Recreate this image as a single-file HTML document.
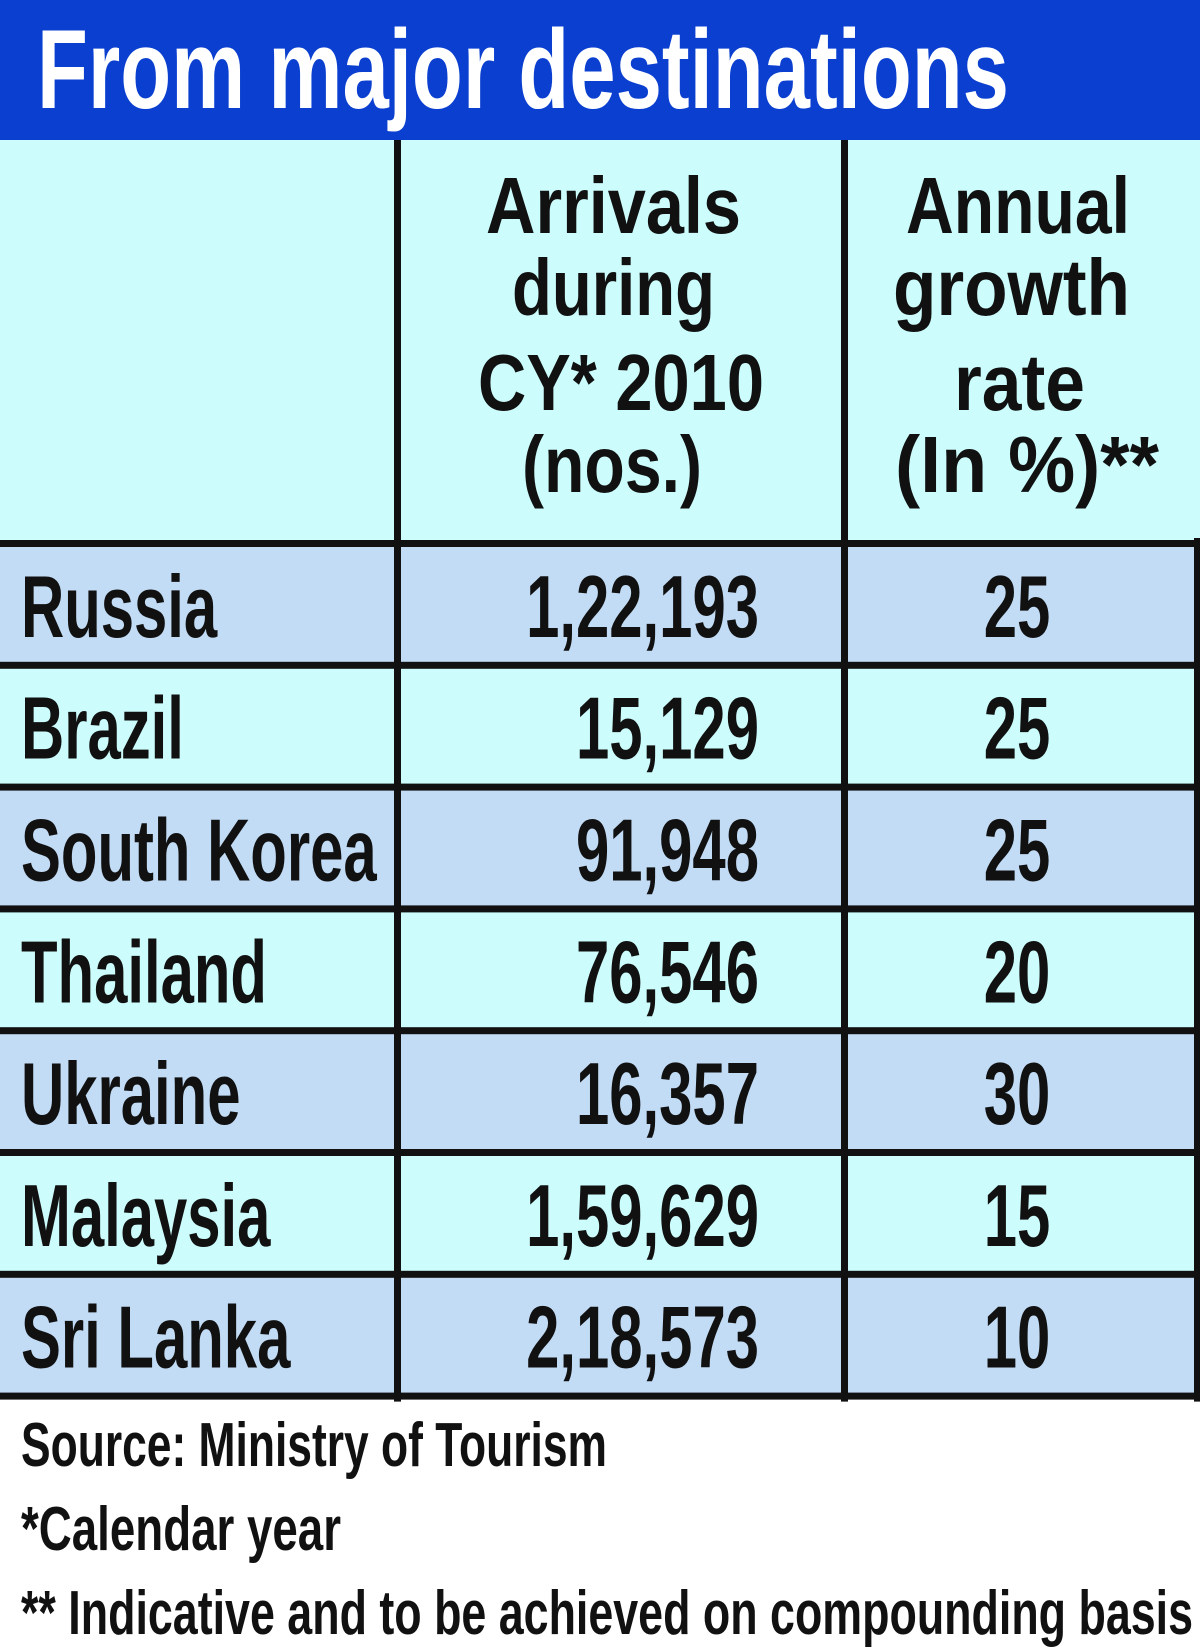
<!DOCTYPE html>
<html><head><meta charset="utf-8"><style>
html,body{margin:0;padding:0;background:#fff;}
svg{display:block;font-family:"Liberation Sans",sans-serif;font-weight:bold;}
</style></head><body>
<svg id="chart" width="1200" height="1648" viewBox="0 0 1200 1648" xmlns="http://www.w3.org/2000/svg">
<rect x="0" y="0" width="1200" height="140" fill="#0a3fd0"/>
<text x="37" y="108" font-size="112" fill="#fff" textLength="972" lengthAdjust="spacingAndGlyphs">From major destinations</text>
<rect x="0" y="140" width="1200" height="402" fill="#ccfcfc"/>
<g font-size="80" fill="#111">
<text x="486" y="233" textLength="255" lengthAdjust="spacingAndGlyphs">Arrivals</text>
<text x="512" y="315" textLength="203" lengthAdjust="spacingAndGlyphs">during</text>
<text x="478" y="410" textLength="286" lengthAdjust="spacingAndGlyphs">CY* 2010</text>
<text x="522" y="492" textLength="180" lengthAdjust="spacingAndGlyphs">(nos.)</text>
</g>
<g font-size="80" fill="#111">
<text x="906" y="233" textLength="224" lengthAdjust="spacingAndGlyphs">Annual</text>
<text x="893" y="315" textLength="237" lengthAdjust="spacingAndGlyphs">growth</text>
<text x="954" y="410" textLength="131" lengthAdjust="spacingAndGlyphs">rate</text>
<text x="895" y="492" textLength="264" lengthAdjust="spacingAndGlyphs">(In %)**</text>
</g>
<g id="rows"></g>
<g id="lines"></g>
<g font-size="62" fill="#111">
<text x="21" y="1466" textLength="586" lengthAdjust="spacingAndGlyphs">Source: Ministry of Tourism</text>
<text x="21" y="1550" textLength="320" lengthAdjust="spacingAndGlyphs">*Calendar year</text>
<text x="21" y="1634" textLength="1172" lengthAdjust="spacingAndGlyphs">** Indicative and to be achieved on compounding basis</text>
</g>
</svg>
<script>
const countries = ["Russia","Brazil","South Korea","Thailand","Ukraine","Malaysia","Sri Lanka"];
const arrivals = ["1,22,193","15,129","91,948","76,546","16,357","1,59,629","2,18,573"];
const growth = ["25","25","25","20","30","15","10"];
const NS="http://www.w3.org/2000/svg";
const rowsG=document.getElementById('rows');
const linesG=document.getElementById('lines');
const top0=545, rowH=121.8, sx=0.68;
function rowY(i){return top0+i*rowH;}
function mk(tag,attrs,parent){const e=document.createElementNS(NS,tag);for(const k in attrs)e.setAttribute(k,attrs[k]);parent.appendChild(e);return e;}
countries.forEach((c,i)=>{
  const y=rowY(i);
  const bg=mk('rect',{x:0,y:y,width:1200,height:rowH,fill:(i%2===0)?'#c2dcf6':'#ccfcfc'},rowsG);
  
  
  const base=y+rowH/2+31;
  const g=mk('g',{transform:'scale('+sx+',1)','font-size':88,fill:'#111'},rowsG);
  const t1=mk('text',{x:21/sx,y:base},g); t1.textContent=c;
  
  
  const t2=mk('text',{x:759/sx,y:base,'text-anchor':'end'},g); t2.textContent=arrivals[i];
  
  
  const t3=mk('text',{x:1017/sx,y:base,'text-anchor':'middle'},g); t3.textContent=growth[i];
  
  
});
const bottom=rowY(countries.length);
[397,844].forEach(x=>{const l=mk('rect',{x:x-3,y:140,width:7,height:bottom-140+4,fill:'#111'},linesG);
  
  });
const rb=mk('rect',{x:1194,y:538,width:6,height:bottom-538+4,fill:'#111'},linesG);


for(let i=0;i<=countries.length;i++){
  const l=mk('rect',{x:0,y:rowY(i)-5,width:1200,height:7,fill:'#111'},linesG);
  
  
}
</script>
</body></html>
